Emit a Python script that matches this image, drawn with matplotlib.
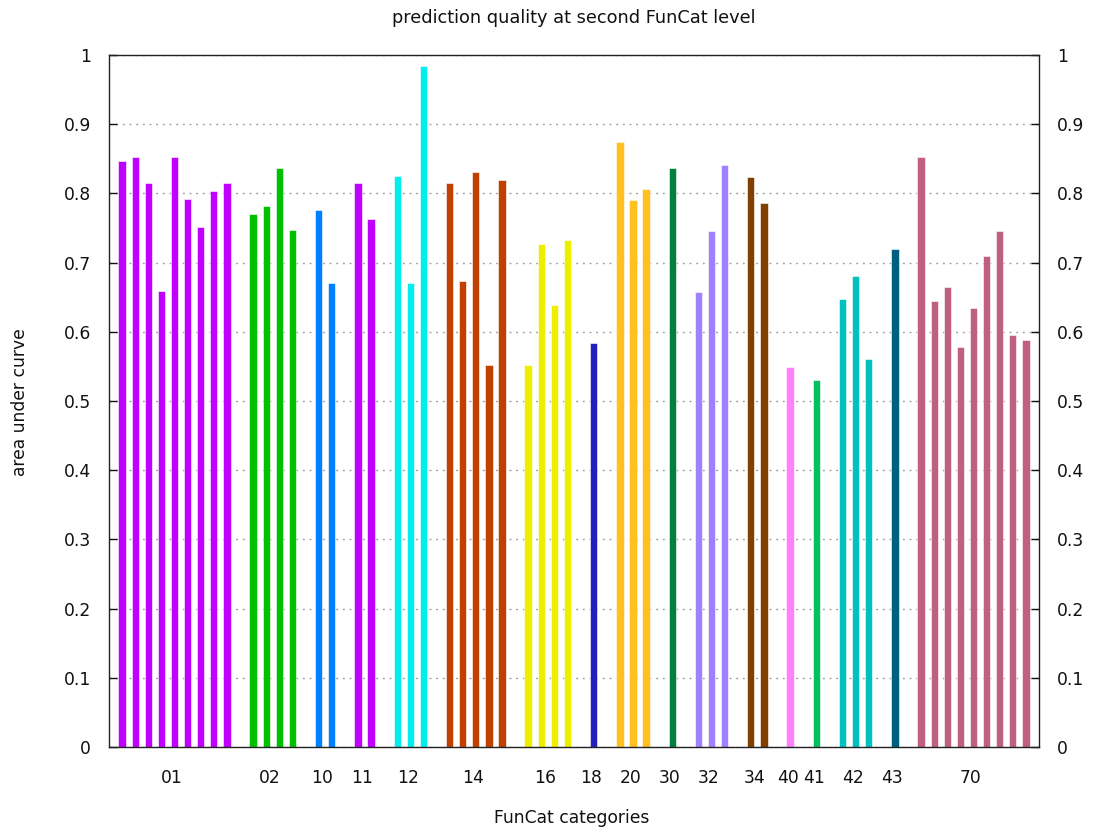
import matplotlib
matplotlib.use("Agg")
import matplotlib.pyplot as plt
import numpy as np

group_labels = ["01", "02", "10", "11", "12", "14", "16", "18", "20", "30",
                "32", "34", "40", "41", "42", "43", "70"]
group_colors = ["#c000ff", "#00c000", "#0080ff", "#c000ff", "#00eeee", "#c04000",
                "#eeee00", "#2020c0", "#ffc020", "#008040", "#a080ff", "#804000",
                "#ff80ff", "#00c060", "#00c0c0", "#006080", "#c06080"]
auc_01 = [0.847, 0.852, 0.815, 0.659, 0.852, 0.792, 0.751, 0.804, 0.815]
auc_02 = [0.770, 0.782, 0.837, 0.747]
auc_10 = [0.776, 0.670]
auc_11 = [0.815, 0.763]
auc_12 = [0.825, 0.670, 0.984]
auc_14 = [0.815, 0.674, 0.831, 0.552, 0.819]
auc_16 = [0.552, 0.727, 0.639, 0.733]
auc_18 = [0.584]
auc_20 = [0.874, 0.790, 0.806]
auc_30 = [0.837]
auc_32 = [0.657, 0.745, 0.841]
auc_34 = [0.823, 0.786]
auc_40 = [0.549]
auc_41 = [0.531]
auc_42 = [0.647, 0.680, 0.561]
auc_43 = [0.720]
auc_70 = [0.853, 0.645, 0.665, 0.578, 0.635, 0.709, 0.745, 0.596, 0.588]

group_values = [auc_01, auc_02, auc_10, auc_11, auc_12, auc_14, auc_16, auc_18,
                auc_20, auc_30, auc_32, auc_34, auc_40, auc_41, auc_42, auc_43, auc_70]
y_ticks = [0, 0.1, 0.2, 0.3, 0.4, 0.5, 0.6, 0.7, 0.8, 0.9, 1]
y_tick_labels = ["0", "0.1", "0.2", "0.3", "0.4", "0.5", "0.6", "0.7", "0.8", "0.9", "1"]

plt.rcParams['font.family'] = ['DejaVu Sans']
FS = 12.3
fig = plt.figure(figsize=(10.93, 8.32), dpi=100)
ax = fig.add_axes([109 / 1093, 1 - 747 / 832, (1039 - 109) / 1093, (747 - 55) / 832])

slot = 0
centers = []
for vals, col in zip(group_values, group_colors):
    xs = np.arange(slot, slot + len(vals))
    ax.bar(xs, vals, width=0.56, color=col, edgecolor='white', linewidth=0.4, zorder=3)
    centers.append(xs.mean() - 0.2)
    slot += len(vals) + 1

ax.set_xlim(-1, slot - 1)
ax.set_ylim(0, 1)
ax.set_yticks(y_ticks)
ax.set_yticklabels(y_tick_labels)
ax.set_xticks(centers)
ax.set_xticklabels(group_labels)

ax.yaxis.grid(True, color='#a0a0a0', linestyle=(0, (1.4, 3.4)), linewidth=1.0, zorder=0)
ax.tick_params(axis='y', direction='in', length=6, width=1.0, right=True, labelright=True,
               labelsize=FS, pad=13, colors='#111111')
ax.tick_params(axis='x', length=0, labelsize=FS, pad=16, colors='#111111')
for s in ax.spines.values():
    s.set_linewidth(1.0)
    s.set_color('#222222')
    s.set_zorder(5)

fig.text(574 / 1093, 1 - 18 / 832, "prediction quality at second FunCat level",
         ha='center', va='center', fontsize=FS + 0.5, color='#111111')
fig.text(572 / 1093, 1 - 818 / 832, "FunCat categories", ha='center', va='center',
         fontsize=FS, color='#111111')
fig.text(20 / 1093, 1 - 402 / 832, "area under curve", ha='center', va='center',
         rotation=90, fontsize=FS, color='#111111')

fig.savefig("out.png", dpi=100)
